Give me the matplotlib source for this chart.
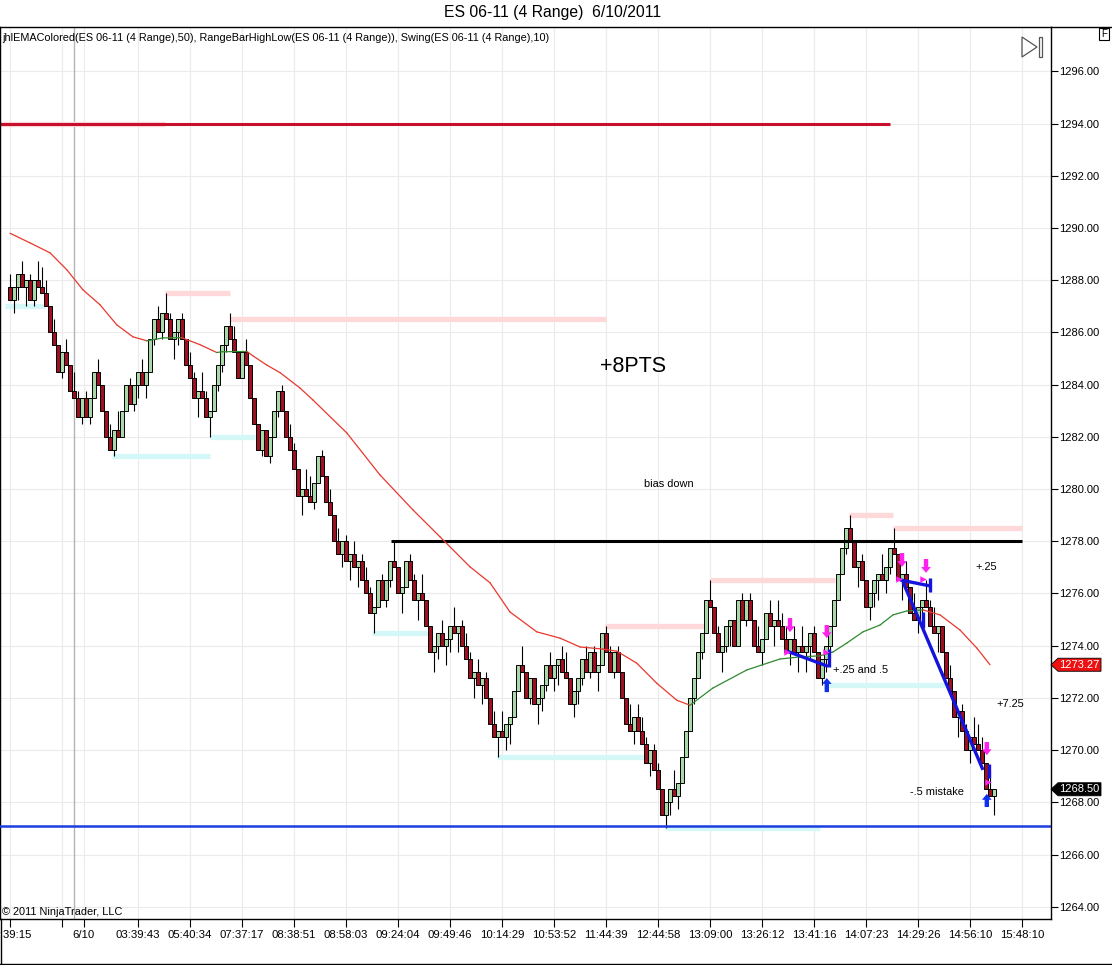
import matplotlib
matplotlib.use("Agg")
import matplotlib.pyplot as plt
import matplotlib.transforms as mtransforms
from matplotlib.patches import Polygon, Rectangle
from matplotlib.lines import Line2D

plt.rcParams['font.family'] = ['Liberation Sans', 'DejaVu Sans']

# ---- data (4 tick range bars, ES 06-11) ----
first_open = 1287.75
closes = [
    1287.25, 1287.75, 1288.25, 1287.75, 1288.0, 1287.25, 1288.0, 1287.75, 1287.5, 1287.0,
    1286.0, 1285.5, 1284.5, 1285.25, 1284.75, 1283.75, 1283.5, 1282.75, 1283.5, 1282.75,
    1283.5, 1284.5, 1284.0, 1283.0, 1282.0, 1281.5, 1282.25, 1282.0, 1283.0, 1284.0,
    1283.25, 1284.0, 1284.5, 1284.0, 1284.5, 1285.75, 1286.5, 1286.0, 1286.75, 1286.5,
    1285.75, 1286.0, 1286.5, 1285.75, 1284.75, 1284.25, 1283.5, 1283.75, 1283.5, 1282.75,
    1283.0, 1284.0, 1284.75, 1285.5, 1286.25, 1285.75, 1285.25, 1284.25, 1285.25, 1284.75,
    1283.5, 1282.5, 1281.5, 1282.25, 1281.25, 1282.0, 1283.0, 1283.75, 1283.0, 1282.0,
    1281.5, 1280.75, 1279.75, 1280.0, 1279.75, 1279.5, 1280.25, 1281.25, 1280.5, 1279.5,
    1279.0, 1278.0, 1277.5, 1278.0, 1277.25, 1277.5, 1277.0, 1277.25, 1276.5, 1276.0,
    1275.25, 1275.5, 1276.5, 1275.75, 1276.5, 1277.25, 1277.0, 1276.0, 1276.25, 1277.25,
    1276.5, 1275.75, 1276.0, 1275.75, 1274.75, 1273.75, 1274.0, 1274.5, 1274.0, 1274.25,
    1274.75, 1274.5, 1274.75, 1274.0, 1273.5, 1272.75, 1273.0, 1272.5, 1272.75, 1272.0,
    1271.0, 1270.5, 1270.75, 1270.5, 1271.0, 1271.25, 1272.25, 1273.25, 1273.0, 1272.0,
    1272.75, 1271.75, 1272.0, 1272.5, 1273.25, 1272.75, 1273.25, 1273.5, 1273.0, 1272.75,
    1271.75, 1272.25, 1272.75, 1273.5, 1273.0, 1273.75, 1273.0, 1273.25, 1274.5, 1273.75,
    1273.0, 1273.75, 1273.0, 1272.0, 1271.0, 1270.75, 1271.25, 1270.75, 1270.25, 1269.5,
    1270.0, 1269.25, 1268.5, 1267.5, 1268.0, 1268.5, 1268.25, 1268.75, 1269.75, 1270.75,
    1272.0, 1272.75, 1273.75, 1274.5, 1275.75, 1275.5, 1274.5, 1273.75, 1274.0, 1274.75,
    1275.0, 1274.0, 1275.75, 1275.0, 1275.75, 1275.0, 1274.0, 1273.75, 1274.25, 1275.25,
    1274.75, 1275.0, 1274.75, 1274.25, 1273.75, 1274.25, 1273.75, 1274.0, 1273.75, 1274.0,
    1274.5, 1273.75, 1272.75, 1273.5, 1274.0, 1274.75, 1275.75, 1276.75, 1277.75, 1278.5,
    1278.0, 1277.0, 1277.25, 1276.5, 1275.5, 1276.0, 1276.5, 1276.75, 1276.5, 1277.0,
    1277.75, 1277.5, 1276.5, 1276.75, 1276.25, 1275.25, 1275.0, 1275.5, 1275.75, 1275.5,
    1274.75, 1274.5, 1274.75, 1273.75, 1272.75, 1272.25, 1271.25, 1271.5, 1270.75, 1270.0,
    1270.5, 1270.25, 1270.0, 1269.5, 1268.5, 1268.25, 1268.5,
]
bar_range = 1.0

# jhlEMAColored(50) read at a few bars
ema_idx = [0, 5, 10, 14.2, 18.25, 22.5, 26.7, 30.75, 34.2, 38.25,
           42.9, 47.5, 51.7, 53, 59.25, 60.75, 64.2, 67.5, 72.5, 75.75,
           84.2, 92.5, 100.75, 107.5, 115, 120, 125, 131.7, 137.5, 142.5,
           148.25, 151.7, 156.7, 161.7, 166.7, 170, 175.75, 184.2, 192.5, 197.5,
           202.5, 205.75, 209.2, 213.25, 217.5, 220.75, 224.2, 228.25, 232.5, 237.5,
           241.7, 245]
ema_val = [1289.80, 1289.43, 1289.05, 1288.40, 1287.63, 1287.06, 1286.29, 1285.83, 1285.68, 1285.79,
           1285.80, 1285.53, 1285.23, 1285.26, 1285.27, 1285.10, 1284.75, 1284.46, 1283.87, 1283.41,
           1282.15, 1280.54, 1279.20, 1278.17, 1277.02, 1276.41, 1275.29, 1274.53, 1274.29, 1273.95,
           1273.87, 1273.79, 1273.33, 1272.56, 1271.91, 1271.72, 1272.38, 1273.07, 1273.49, 1273.57,
           1273.61, 1273.76, 1274.10, 1274.53, 1274.79, 1275.18, 1275.33, 1275.37, 1275.18, 1274.60,
           1273.91, 1273.27]

# RangeBarHighLow: highs (pink) and lows (cyan)
high_levels = [1294.0, 1287.5, 1286.5, 1274.75, 1276.5, 1279.0, 1278.5]
high_from = [-2.5, 38.75, 55, 148.75, 175, 209.75, 220.75]
high_to = [38.75, 55, 149, 173.75, 206.25, 220.75, 253]
low_levels = [1287.0, 1281.25, 1282.0, 1274.5, 1269.75, 1267.0, 1272.5]
low_from = [-1.25, 25.5, 50, 90.5, 121.75, 163.75, 203.75]
low_to = [8.75, 50, 61.25, 105, 158.75, 202.5, 233.75]

# drawn lines
red_level, red_to = 1294.0, 220
black_level, black_from, black_to = 1278.0, 95.25, 253
blue_level = 1267.1

# trade lines: (x0, y0, x1, y1)
trade_lines = [
    (194.25, 1273.79, 204.5, 1273.21),
    (204.75, 1273.87, 204.75, 1273.18),
    (222.5, 1276.52, 230, 1276.29),
    (230, 1276.6, 230, 1276.06),
    (223.25, 1276.44, 243.25, 1269.24),
    (228.25, 1275.29, 228.25, 1274.68),
    (244.75, 1269.45, 244.75, 1268.95),
]
sell_idx = [195, 204.2, 223, 229, 244.2]
sell_top = [1275.06, 1274.79, 1277.55, 1277.32, 1270.31]
sell_tip = [1274.52, 1274.29, 1277.02, 1276.79, 1269.81]
buy_idx = [204.2, 244.2]
buy_low = [1272.22, 1267.82]
buy_tip = [1272.76, 1268.32]
entry_idx = [194.2, 203.9, 222.3, 228.3, 244.6]
entry_px = [1273.77, 1273.77, 1276.56, 1276.56, 1268.79]

notes = ['+8PTS', 'bias down', '+.25', '+.25 and .5', '+7.25', '-.5 mistake']
note_x = [155.75, 164.75, 244, 212.75, 250, 231.75]
note_y = [1284.68, 1280.2, 1277.02, 1273.07, 1271.77, 1268.4]
note_size = [15.5, 7.9, 7.9, 7.9, 7.9, 7.9]

tick_pos = [0, 13, 18.4, 32, 45, 58, 71, 84, 97, 110, 123, 136, 149, 162,
            175, 188, 201, 214, 227, 240, 253]
tick_lab = ['00:39:15', '', '6/10', '03:39:43', '05:40:34', '07:37:17', '08:38:51',
            '08:58:03', '09:24:04', '09:49:46', '10:14:29', '10:53:52', '11:44:39',
            '12:44:58', '13:09:00', '13:26:12', '13:41:16', '14:07:23', '14:29:26',
            '14:56:10', '15:48:10']
day_break = 16
price_ticks = list(range(1264, 1297, 2))

W, H = 1112, 965
fig = plt.figure(figsize=(W / 100, H / 100), dpi=100)
fig.patch.set_facecolor('white')
ax = fig.add_axes([0, 46 / H, 1051 / W, 892 / H])
ax.set_xlim(-2.5, 260.25)
ax.set_ylim(1263.53, 1297.70)

ax.yaxis.tick_right()
ax.set_yticks(price_ticks)
ax.set_yticklabels([f'{p:.2f}' for p in price_ticks])
ax.set_xticks(tick_pos)
ax.set_xticklabels(tick_lab)
ax.tick_params(axis='y', direction='out', length=5, width=0.8, pad=1, labelsize=8.0)
ax.tick_params(axis='x', direction='out', length=6, width=0.8, pad=2, labelsize=8.2)
ax.grid(color='#ebebeb', lw=0.8)
ax.set_axisbelow(True)
for s in ax.spines.values():
    s.set_linewidth(1.0)
ax.axvline(day_break, color='#b4b4b4', lw=1.0, zorder=1)

# candles
opens = [first_open] + closes[:-1]
xs = list(range(len(closes)))
lows, highs, bottoms, heights, fills = [], [], [], [], []
for o, c in zip(opens, closes):
    if c > o:
        highs.append(c)
        lows.append(min(o, c - bar_range))
        fills.append('#a9d8a9')
    else:
        lows.append(c)
        highs.append(max(o, c + bar_range))
        fills.append('#9c1020')
    bottoms.append(min(o, c))
    heights.append(max(abs(c - o), 0.03))

# swing high / low lines
ax.hlines(high_levels, high_from, high_to, color='#ffd9d9', lw=3.8, zorder=2)
ax.hlines(low_levels, low_from, low_to, color='#d4f8f8', lw=3.8, zorder=2)
ax.hlines(red_level, -2.5, red_to, color='#c8102e', lw=2.2, zorder=2.5)

ax.vlines(xs, lows, highs, color='black', lw=0.8, zorder=3)
ax.bar(xs, heights, bottom=bottoms, width=0.8, color=fills,
       edgecolor='black', linewidth=0.7, zorder=4)

ax.hlines(black_level, black_from, black_to, color='black', lw=2.2, zorder=4.5)
ax.axhline(blue_level, color='#1c3ee0', lw=1.8, zorder=4.5)

# EMA colored by slope
for i in range(len(ema_idx) - 1):
    col = '#2f8a2f' if ema_val[i + 1] >= ema_val[i] else '#e8382e'
    ax.plot(ema_idx[i:i + 2], ema_val[i:i + 2], color=col, lw=0.9,
            solid_capstyle='round', zorder=5)

# trades
for x0, y0, x1, y1 in trade_lines:
    ax.plot([x0, x1], [y0, y1], color='#1414dc', lw=2.4, zorder=6,
            solid_capstyle='butt')
for x, t, p in zip(sell_idx, sell_top, sell_tip):
    ax.annotate('', xy=(x, p), xytext=(x, t),
                arrowprops=dict(arrowstyle='simple,head_length=0.6,head_width=1.0,tail_width=0.45',
                                fc='#ff22ee', ec='none', mutation_scale=7,
                                shrinkA=0, shrinkB=0), zorder=7)
for x, b, p in zip(buy_idx, buy_low, buy_tip):
    ax.annotate('', xy=(x, p), xytext=(x, b),
                arrowprops=dict(arrowstyle='simple,head_length=0.6,head_width=1.0,tail_width=0.45',
                                fc='#1030f0', ec='none', mutation_scale=7,
                                shrinkA=0, shrinkB=0), zorder=7)
ax.scatter(entry_idx, entry_px, marker='>', s=22, color='#ff22ee', zorder=7, linewidths=0)

for t, x, y, fs in zip(notes, note_x, note_y, note_size):
    ax.text(x, y, t, ha='center', va='center', fontsize=fs, color='black', zorder=8)

# price tags on the right axis
trans = mtransforms.blended_transform_factory(fig.transFigure, ax.transData)
for price, fc in [(ema_val[-1], '#ee1111'), (closes[-1], 'black')]:
    h = 0.25
    pts = [(1051 / W, price), (1058 / W, price + h), (1101 / W, price + h),
           (1101 / W, price - h), (1058 / W, price - h)]
    ax.add_patch(Polygon(pts, closed=True, transform=trans, fc=fc, ec='black',
                         lw=0.6, clip_on=False, zorder=9))
    ax.text(1079.5 / W, price, f'{price:.2f}', transform=trans, ha='center', va='center',
            color='white', fontsize=8.0, clip_on=False, zorder=10)

# frame and header pieces (figure pixel coords)
def fx(px):
    return px / W

def fy(py):
    return 1 - py / H

for (x0, y0, x1, y1) in [(1051, 27, 1112, 27), (0, 963.5, 1112, 963.5),
                         (0.5, 919, 0.5, 964)]:
    fig.add_artist(Line2D([fx(x0), fx(x1)], [fy(y0), fy(y1)], color='black', lw=1.0))

fig.text(0.497, fy(13), 'ES 06-11 (4 Range)  6/10/2011', ha='center', va='center', fontsize=11.3)
fig.text(fx(2), fy(38), 'jhlEMAColored(ES 06-11 (4 Range),50), RangeBarHighLow(ES 06-11 (4 Range)), '
         'Swing(ES 06-11 (4 Range),10)', ha='left', va='center', fontsize=7.8)
fig.text(fx(2), fy(912), '\u00a9 2011 NinjaTrader, LLC', ha='left', va='center', fontsize=7.9)

fig.add_artist(Polygon([(fx(1022), fy(37)), (fx(1037), fy(47)), (fx(1022), fy(57))],
                       closed=True, fill=False, ec='#555555', lw=0.9, transform=fig.transFigure))
fig.add_artist(Rectangle((fx(1038.5), fy(57)), 3.5 / W, 20 / H, fill=False, ec='#555555',
                         lw=0.9, transform=fig.transFigure))
fig.add_artist(Rectangle((fx(1099), fy(40)), 10 / W, 12 / H, fill=False, ec='black',
                         lw=0.8, transform=fig.transFigure))
fig.text(fx(1104), fy(34), 'F', ha='center', va='center', fontsize=7)

fig.savefig('out.png', dpi=100)
